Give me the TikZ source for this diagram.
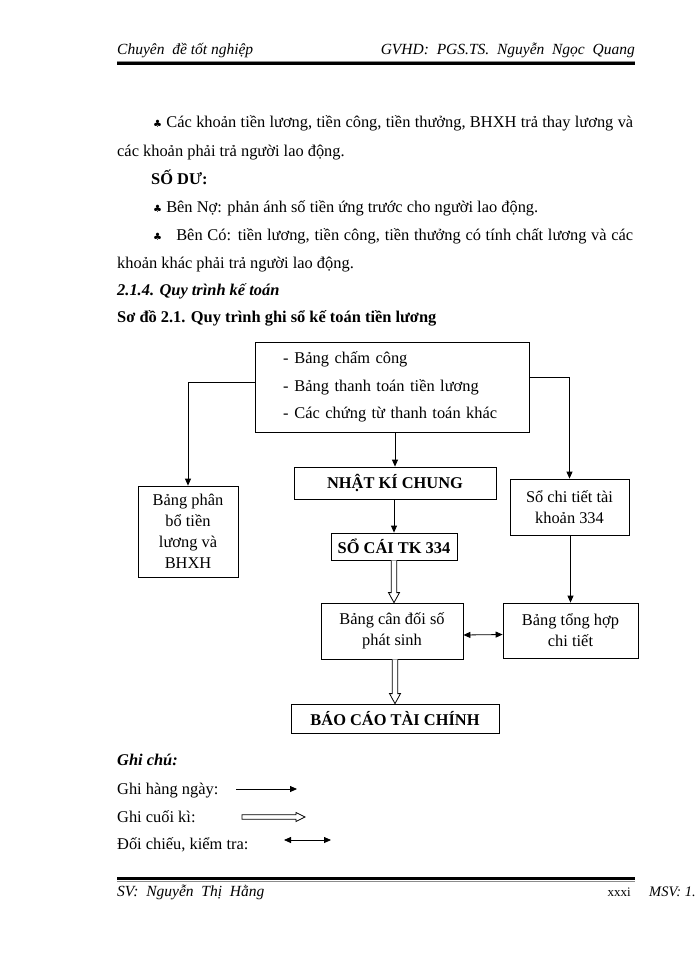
\documentclass[tikz,border=0pt]{standalone}
\usepackage{fontspec}
\setmainfont{Liberation Serif}
\newfontfamily\symf{DejaVu Sans}
\usetikzlibrary{arrows.meta,calc}
\newcommand\clubsym{{\symf\fontsize{10}{10}\selectfont ♣}}
\newcommand\hollowdown[2]{%
  \draw[hol] ($(#1)+(-2.8,0)$) -- ($(#2)+(-2.8,-10)$) -- ($(#2)+(-5.5,-10)$) -- (#2)
    -- ($(#2)+(5.5,-10)$) -- ($(#2)+(2.8,-10)$) -- ($(#1)+(2.8,0)$);}
\newcommand\hollowright[2]{%
  \draw[hol] ($(#1)+(0,-2.2)$) -- ($(#2)+(-9,-2.2)$) -- ($(#2)+(-9,-4.5)$) -- (#2)
    -- ($(#2)+(-9,4.5)$) -- ($(#2)+(-9,2.2)$) -- ($(#1)+(0,2.2)$) -- cycle;}
\begin{document}
\begin{tikzpicture}[x=1pt,y=-1pt,
  txt/.style={anchor=base west, inner sep=0pt, font=\fontsize{16.4}{20}\selectfont},
  hdr/.style={inner sep=0pt, font=\itshape\fontsize{15.5}{18}\selectfont},
  box/.style={draw, line width=0.8pt, inner sep=0pt, align=center, font=\fontsize{16.4}{21}\selectfont},
  bold/.style={font=\bfseries\fontsize{16.4}{20}\selectfont},
  arr/.style={line width=0.8pt, -{Triangle[length=7pt,width=6pt]}},
  barr/.style={line width=0.8pt, {Triangle[length=7pt,width=6pt]}-{Triangle[length=7pt,width=6pt]}},
  hol/.style={line width=0.8pt, fill=white, line join=miter}]
\useasboundingbox (0,0) rectangle (700,960);
\fill[white] (0,0) rectangle (700,960);

% header
\node[hdr, anchor=base west] (hl) at (117,55) {Chuyên\ \ đề tốt nghiệp};
\node[hdr, anchor=base east] (hr) at (635,55) {GVHD:\ \ PGS.TS.\ \ Nguyễn\ \ Ngọc\ \ Quang};
\draw[black!45, line width=0.7pt] (117,61) -- (635,61);
\draw[line width=3pt] (117,64) -- (635,64);

% body text
\node[txt] (t1) at (153,128) {\makebox[480pt][s]{\clubsym\ Các khoản tiền lương, tiền công, tiền thưởng, BHXH trả thay lương và}};
\node[txt] (t2) at (117,157) {các khoản phải trả người lao động.};
\node[txt, font=\bfseries\fontsize{16.4}{20}\selectfont] (t3) at (151,184) {SỐ DƯ:};
\node[txt] (t4) at (153,212) {\clubsym\ Bên Nợ: phản ánh số tiền ứng trước cho người lao động.};
\node[txt] (t5) at (153,240) {\makebox[480pt][s]{\clubsym\ \ \ Bên Có: tiền lương, tiền công, tiền thưởng có tính chất lương và các}};
\node[txt] (t6) at (117,268) {khoản khác phải trả người lao động.};
\node[txt, font=\bfseries\itshape\fontsize{16.4}{20}\selectfont] (t7) at (117,295) {2.1.4. Quy trình kế toán};
\node[txt, font=\bfseries\fontsize{16.4}{20}\selectfont] (t8) at (117,322) {Sơ đồ 2.1. Quy trình ghi sổ kế toán tiền lương};

% diagram
\node[box, minimum width=274pt, minimum height=90pt, text width=218pt, align=left,
      font=\fontsize{16.4}{27.5}\selectfont] (src) at (392,387)
  {-\hspace{6pt}Bảng chấm công\\-\hspace{6pt}Bảng thanh toán tiền lương\\-\hspace{6pt}Các chứng từ thanh toán khác};
\node[box, minimum width=100pt, minimum height=91pt] (pb) at (188,531.5) {Bảng phân\\bổ tiền\\lương và\\BHXH};
\node[box, minimum width=119pt, minimum height=56pt] (sct) at (569.5,507) {Sổ chi tiết tài\\khoản 334};
\node[box, bold, minimum width=202pt, minimum height=32pt] (nkc) at (395,483) {NHẬT KÍ CHUNG};
\node[box, bold, minimum width=126pt, minimum height=27pt] (sc) at (394,546.5) {SỔ CÁI TK 334};
\node[box, minimum width=142pt, minimum height=56pt] (bcd) at (392,631) {Bảng cân đối số\\phát sinh};
\node[box, minimum width=135pt, minimum height=55pt] (bth) at (570.5,630.5) {Bảng tổng hợp\\chi tiết};
\node[box, bold, minimum width=208pt, minimum height=29pt] (bc) at (395,718.5) {BÁO CÁO TÀI CHÍNH};

\draw[arr] ([yshift=5pt]src.west) -| (pb.north);
\draw[arr] ([yshift=10pt]src.east) -| (sct.north);
\draw[arr] (src.south -| nkc.north) -- (nkc.north);
\draw[arr] (nkc.south -| sc.north) -- (sc.north);
\draw[arr] (sct.south -| bth.north) -- (bth.north);
\draw[barr] ([yshift=-4pt]bcd.east) -- ([yshift=-4pt]bth.west);
\coordinate (h1s) at (sc.south);
\coordinate (h1e) at (sc.south |- bcd.north);
\hollowdown{h1s}{h1e}
\coordinate (h2s) at (bcd.south -| bc.north);
\coordinate (h2e) at (bc.north);
\hollowdown{h2s}{h2e}

% legend
\node[txt, font=\bfseries\itshape\fontsize{16.4}{20}\selectfont] (g0) at (117,765) {Ghi chú:};
\node[txt] (g1) at (117,794) {Ghi hàng ngày:};
\node[txt] (g2) at (117,822) {Ghi cuối kì:};
\node[txt] (g3) at (117,849) {Đối chiếu, kiểm tra:};
\coordinate (l1a) at (236,789); \coordinate (l1b) at (297,789);
\draw[arr] (l1a) -- (l1b);
\coordinate (l2a) at (242,817); \coordinate (l2b) at (305,817);
\hollowright{l2a}{l2b}
\coordinate (l3a) at (284,840); \coordinate (l3b) at (331,840);
\draw[barr] (l3a) -- (l3b);

% footer
\draw[line width=3.5pt] (117,878.5) -- (635,878.5);
\draw[black!45, line width=0.8pt] (117,881.5) -- (635,881.5);
\node[hdr, anchor=base west] (fl) at (117,896) {SV:\ \ Nguyễn\ \ Thị\ \ Hằng};
\node[inner sep=0pt, anchor=base east, font=\fontsize{13}{15}\selectfont] (pg) at (631,896) {xxxi};
\node[inner sep=0pt, anchor=base west, font=\itshape\fontsize{14.5}{17}\selectfont] (msv) at (649,896) {MSV: 1.};
\end{tikzpicture}
\end{document}
